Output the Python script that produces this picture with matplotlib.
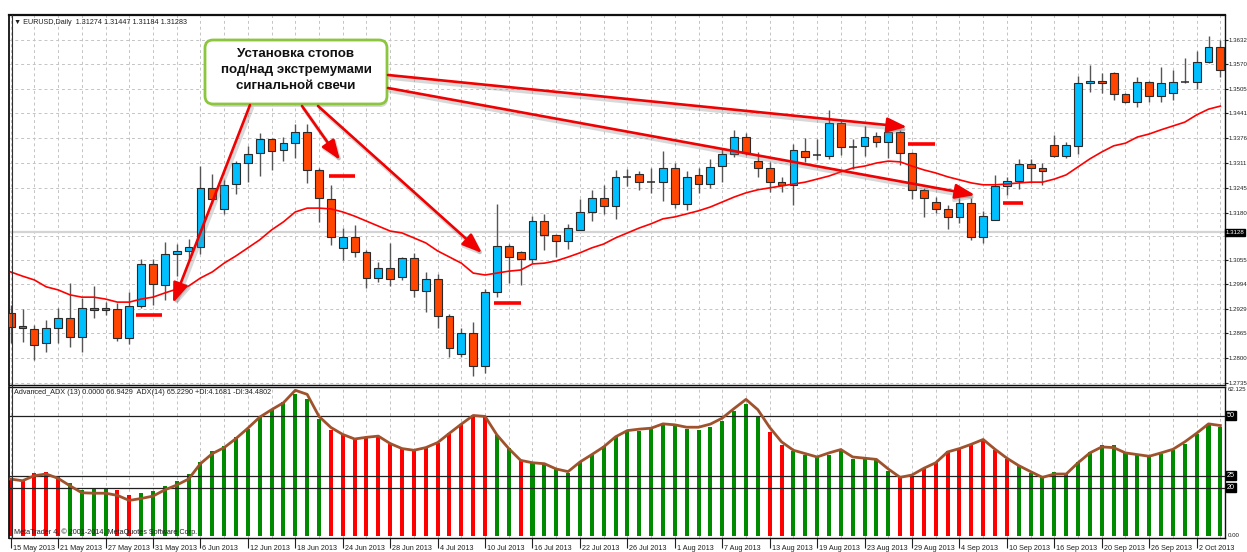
import numpy as np
import matplotlib.pyplot as plt
from matplotlib.patches import FancyBboxPatch
import matplotlib.transforms as mtransforms

plt.rcParams['font.family'] = ['Liberation Sans', 'DejaVu Sans']

# EURUSD daily candles, 15 May 2013 .. 4 Oct 2013
opens = [1.2918, 1.2884, 1.2876, 1.2839, 1.2878, 1.2905, 1.2855, 1.2931, 1.2931, 1.2928,
         1.2852, 1.2936, 1.3046, 1.2991, 1.3072, 1.3080, 1.3090, 1.3245, 1.3190, 1.3255,
         1.3310, 1.3336, 1.3373, 1.3344, 1.3362, 1.3391, 1.3292, 1.3216, 1.3088, 1.3116,
         1.3077, 1.3009, 1.3035, 1.3012, 1.3061, 1.2975, 1.3007, 1.2910, 1.2810, 1.2865,
         1.2779, 1.2973, 1.3093, 1.3077, 1.3059, 1.3158, 1.3122, 1.3106, 1.3135, 1.3182,
         1.3219, 1.3198, 1.3274, 1.3281, 1.3260, 1.3260, 1.3297, 1.3203, 1.3279, 1.3255,
         1.3302, 1.3334, 1.3378, 1.3315, 1.3297, 1.3260, 1.3253, 1.3342, 1.3331, 1.3328,
         1.3415, 1.3352, 1.3355, 1.3381, 1.3365, 1.3391, 1.3336, 1.3240, 1.3208, 1.3190,
         1.3169, 1.3205, 1.3116, 1.3161, 1.3250, 1.3263, 1.3308, 1.3297, 1.3357, 1.3328,
         1.3355, 1.3519, 1.3525, 1.3546, 1.3491, 1.3470, 1.3522, 1.3485, 1.3493, 1.3522,
         1.3522, 1.3574, 1.3614]
highs = [1.2939, 1.2928, 1.2886, 1.2899, 1.2931, 1.2996, 1.2957, 1.2988, 1.2946, 1.2944,
         1.2973, 1.3059, 1.3059, 1.3103, 1.3098, 1.3111, 1.3302, 1.3281, 1.3266, 1.3315,
         1.3355, 1.3389, 1.3376, 1.3378, 1.3412, 1.3412, 1.3297, 1.3253, 1.3140, 1.3148,
         1.3082, 1.3051, 1.3101, 1.3064, 1.3075, 1.3025, 1.3020, 1.2915, 1.2878, 1.2894,
         1.2980, 1.3203, 1.3098, 1.3080, 1.3171, 1.3177, 1.3124, 1.3151, 1.3216, 1.3240,
         1.3253, 1.3292, 1.3294, 1.3289, 1.3297, 1.3342, 1.3310, 1.3289, 1.3297, 1.3321,
         1.3347, 1.3397, 1.3389, 1.3339, 1.3313, 1.3274, 1.3360, 1.3376, 1.3373, 1.3449,
         1.3423, 1.3373, 1.3407, 1.3391, 1.3397, 1.3397, 1.3339, 1.3245, 1.3221, 1.3200,
         1.3219, 1.3219, 1.3185, 1.3279, 1.3274, 1.3321, 1.3321, 1.3310, 1.3383, 1.3365,
         1.3538, 1.3567, 1.3546, 1.3547, 1.3493, 1.3535, 1.3525, 1.3561, 1.3553, 1.3585,
         1.3603, 1.3642, 1.3632]
lows = [1.2839, 1.2842, 1.2795, 1.2816, 1.2839, 1.2829, 1.2816, 1.2905, 1.2912, 1.2844,
        1.2836, 1.2931, 1.2939, 1.2952, 1.3014, 1.3056, 1.3072, 1.3205, 1.3177, 1.3229,
        1.3260, 1.3276, 1.3292, 1.3315, 1.3323, 1.3258, 1.3156, 1.3096, 1.3056, 1.3064,
        1.2983, 1.2999, 1.2988, 1.3004, 1.2959, 1.2920, 1.2878, 1.2802, 1.2802, 1.2753,
        1.2761, 1.2959, 1.2996, 1.2991, 1.3048, 1.3082, 1.3064, 1.3085, 1.3135, 1.3158,
        1.3177, 1.3164, 1.3250, 1.3240, 1.3232, 1.3211, 1.3192, 1.3187, 1.3232, 1.3245,
        1.3260, 1.3326, 1.3331, 1.3274, 1.3234, 1.3234, 1.3200, 1.3313, 1.3318, 1.3321,
        1.3331, 1.3294, 1.3328, 1.3352, 1.3323, 1.3305, 1.3216, 1.3169, 1.3179, 1.3137,
        1.3153, 1.3109, 1.3101, 1.3161, 1.3226, 1.3242, 1.3258, 1.3253, 1.3326, 1.3323,
        1.3334, 1.3496, 1.3493, 1.3475, 1.3467, 1.3457, 1.3470, 1.3470, 1.3475, 1.3519,
        1.3504, 1.3572, 1.3535]
closes = [1.2881, 1.2878, 1.2834, 1.2878, 1.2905, 1.2855, 1.2931, 1.2925, 1.2925, 1.2852,
          1.2936, 1.3046, 1.2994, 1.3072, 1.3080, 1.3090, 1.3245, 1.3216, 1.3253, 1.3310,
          1.3334, 1.3373, 1.3342, 1.3362, 1.3391, 1.3292, 1.3219, 1.3116, 1.3116, 1.3077,
          1.3009, 1.3035, 1.3007, 1.3061, 1.2978, 1.3007, 1.2910, 1.2826, 1.2865, 1.2779,
          1.2973, 1.3093, 1.3064, 1.3059, 1.3158, 1.3122, 1.3106, 1.3140, 1.3182, 1.3219,
          1.3198, 1.3274, 1.3274, 1.3260, 1.3260, 1.3297, 1.3203, 1.3274, 1.3255, 1.3300,
          1.3334, 1.3378, 1.3336, 1.3297, 1.3260, 1.3253, 1.3344, 1.3326, 1.3331, 1.3415,
          1.3352, 1.3352, 1.3378, 1.3365, 1.3391, 1.3336, 1.3240, 1.3219, 1.3190, 1.3169,
          1.3205, 1.3116, 1.3171, 1.3250, 1.3263, 1.3308, 1.3297, 1.3289, 1.3328, 1.3357,
          1.3519, 1.3525, 1.3519, 1.3491, 1.3470, 1.3522, 1.3485, 1.3519, 1.3522, 1.3522,
          1.3574, 1.3614, 1.3553]
# moving average (red line)
ma = [1.3025, 1.3014, 1.3004, 1.2986, 1.2978, 1.2965, 1.2959, 1.2959, 1.2954, 1.2946,
      1.2946, 1.2954, 1.2959, 1.2970, 1.2980, 1.2988, 1.3009, 1.3025, 1.3048, 1.3067,
      1.3088, 1.3109, 1.3135, 1.3156, 1.3182, 1.3192, 1.3192, 1.3190, 1.3182, 1.3171,
      1.3158, 1.3145, 1.3132, 1.3127, 1.3114, 1.3101, 1.3080, 1.3064, 1.3048, 1.3022,
      1.3017, 1.3022, 1.3027, 1.3030, 1.3046, 1.3048, 1.3054, 1.3064, 1.3075, 1.3088,
      1.3098, 1.3114, 1.3127, 1.3140, 1.3151, 1.3164, 1.3169, 1.3177, 1.3185, 1.3195,
      1.3208, 1.3221, 1.3232, 1.3240, 1.3245, 1.3250, 1.3255, 1.3260, 1.3268, 1.3276,
      1.3287, 1.3297, 1.3302, 1.3310, 1.3315, 1.3313, 1.3302, 1.3292, 1.3284, 1.3274,
      1.3266, 1.3258, 1.3253, 1.3253, 1.3255, 1.3258, 1.3260, 1.3260, 1.3268, 1.3279,
      1.3300, 1.3321, 1.3339, 1.3355, 1.3362, 1.3378, 1.3386, 1.3397, 1.3407, 1.3417,
      1.3436, 1.3451, 1.3459]
bid = 1.31283

# Advanced ADX histogram, colour by direction (G = up, R = down) and the ADX line
adx_bars = [23.2, 22.6, 26.1, 26.7, 24.7, 22.0, 19.1, 19.6, 19.6, 18.9, 16.8, 17.7, 18.5,
            20.8, 22.7, 25.7, 30.8, 35.2, 37.4, 41.0, 44.4, 49.3, 52.5, 55.8, 59.2, 56.8,
            48.7, 44.1, 42.0, 40.1, 40.8, 41.2, 38.4, 36.0, 35.6, 36.6, 38.8, 42.9, 46.5,
            50.1, 49.3, 42.0, 36.6, 31.4, 30.4, 30.4, 28.1, 26.1, 30.9, 33.8, 37.3, 41.2,
            43.8, 43.8, 44.8, 46.5, 45.9, 44.5, 44.1, 45.5, 47.6, 51.8, 54.9, 49.3, 43.1,
            38.0, 35.2, 33.5, 32.8, 33.8, 35.2, 32.1, 31.8, 31.4, 27.1, 24.3, 25.0, 28.1,
            30.7, 35.2, 36.0, 37.7, 39.8, 35.6, 32.1, 29.0, 26.1, 24.3, 26.7, 25.7, 30.7,
            34.9, 37.7, 37.7, 34.5, 34.2, 32.8, 34.2, 35.6, 38.4, 42.2, 46.5, 45.5]
adx_dir = ("RRRRRGGGGRRGGGGGGGGGGGGGGGG" "RRRRRRRRRRRRRR" "GGRGGGGGGGG"
           "GGGGGGGGGGGGRRGGGGGGGGG" "RRRRRRRRRR" "GGGGGGGGGGGGGGGGGG")
adx_line = [23.6, 22.9, 25.0, 25.7, 23.9, 20.8, 17.9, 17.7, 17.7, 16.8, 14.7, 15.5, 16.5,
            19.1, 21.1, 23.6, 30.0, 34.2, 36.7, 40.5, 44.8, 49.4, 52.5, 55.4, 60.6, 58.9,
            49.7, 45.1, 42.2, 40.3, 41.0, 41.5, 38.4, 36.3, 35.6, 36.7, 38.8, 42.7, 46.5,
            50.1, 49.7, 42.0, 36.3, 31.4, 30.4, 30.0, 27.8, 26.7, 30.7, 33.8, 37.0, 41.2,
            43.8, 44.4, 44.8, 46.6, 46.2, 45.2, 45.2, 46.5, 49.0, 53.0, 56.8, 52.5, 45.1,
            39.1, 35.6, 34.2, 32.8, 34.5, 35.9, 32.8, 32.3, 31.8, 27.8, 24.3, 25.3, 28.1,
            30.4, 34.9, 36.3, 38.1, 40.1, 36.0, 32.3, 29.2, 26.7, 24.3, 25.7, 25.7, 30.4,
            34.5, 37.0, 36.7, 34.5, 33.8, 33.1, 34.5, 36.0, 39.1, 42.7, 46.6, 45.9]
adx_levels = [50, 25, 20]

date_labels = ['15 May 2013', '21 May 2013', '27 May 2013', '31 May 2013', '6 Jun 2013',
               '12 Jun 2013', '18 Jun 2013', '24 Jun 2013', '28 Jun 2013', '4 Jul 2013',
               '10 Jul 2013', '16 Jul 2013', '22 Jul 2013', '26 Jul 2013', '1 Aug 2013',
               '7 Aug 2013', '13 Aug 2013', '19 Aug 2013', '23 Aug 2013', '29 Aug 2013',
               '4 Sep 2013', '10 Sep 2013', '16 Sep 2013', '20 Sep 2013', '26 Sep 2013',
               '2 Oct 2013']
price_ticks = [1.2735, 1.2800, 1.2865, 1.2929, 1.2994, 1.3055, 1.3120, 1.3180, 1.3245,
               1.3311, 1.3376, 1.3441, 1.3505, 1.3570, 1.3632]
price_labels = ['1.2735', '1.2800', '1.2865', '1.2929', '1.2994', '1.3055', '', '1.3180',
                '1.3245', '1.3311', '1.3376', '1.3441', '1.3505', '1.3570', '1.3632']

# stop marks: (first bar, last bar, price)
stops = [(10.6, 12.8, 1.2912), (26.8, 29.0, 1.3276), (40.75, 43.0, 1.2944),
         (75.7, 77.9, 1.3360), (83.7, 85.4, 1.3205)]

W, H = 1247, 552
fig = plt.figure(figsize=(W / 100, H / 100), dpi=100)
fig.patch.set_facecolor('white')


def px_box(l, t, r, b):
    return [l / W, 1 - b / H, (r - l) / W, (b - t) / H]


ax1 = fig.add_axes(px_box(9, 15, 1225, 385))
ax2 = fig.add_axes(px_box(9, 387, 1225, 538))
xlim = (-0.14, 102.39)
small = 5.2
axis_small = 4.4
grid_kw = dict(color='#c4c4c4', linestyle=(0, (3, 3)), linewidth=0.7)

x = np.arange(len(opens))
o, h, l, c = (np.array(v) for v in (opens, highs, lows, closes))
up, down, flat = c > o, c < o, c == o

# ---- price panel
ax1.axhline(bid, color='#d4d4d4', lw=1.6, zorder=1)
ax1.vlines(x, l, h, color='#555555', lw=1, zorder=2)
ax1.bar(x[up], c[up] - o[up], bottom=o[up], width=0.66, color='#00bfff',
        edgecolor='#2a2a2a', linewidth=0.8, zorder=3)
ax1.bar(x[down], o[down] - c[down], bottom=c[down], width=0.66, color='#ff4500',
        edgecolor='#2a2a2a', linewidth=0.8, zorder=3)
ax1.hlines(o[flat], x[flat] - 0.33, x[flat] + 0.33, color='#2a2a2a', lw=1.1, zorder=3)
ax1.plot(x, ma, color='#ff0000', lw=1.2, zorder=4)
for s0, s1, p in stops:
    ax1.hlines(p, s0, s1, color='#ff0000', lw=2.6, zorder=5)

ax1.set_xlim(*xlim)
ax1.set_ylim(1.27291, 1.36974)
ax1.set_xticks(np.arange(0, 103, 2))
ax1.tick_params(axis='x', length=0, labelbottom=False)
ax1.yaxis.tick_right()
ax1.set_yticks(price_ticks)
ax1.set_yticklabels(price_labels)
ax1.tick_params(axis='y', length=2, width=0.8, pad=0.5, labelsize=axis_small,
                colors='#202020')
ax1.grid(True, **grid_kw)
ax1.set_axisbelow(True)

ax1.text(1.0008, bid, '1.3128', transform=ax1.get_yaxis_transform(), fontsize=axis_small,
         color='white', va='center', ha='left',
         bbox=dict(boxstyle='square,pad=0.1', fc='black', ec='black'))

# ---- ADX panel
bar_cols = ['#008a00' if d == 'G' else '#ff0000' for d in adx_dir]
ax2.bar(x, adx_bars, width=0.34, color=bar_cols, zorder=2)
ax2.plot(x, adx_line, color='#a0522d', lw=2, zorder=4)
for lv in adx_levels:
    ax2.axhline(lv, color='#202020', lw=0.9, zorder=3)
    ax2.text(1.0016, lv, str(lv), transform=ax2.get_yaxis_transform(), fontsize=small,
             color='white', va='center', ha='left',
             bbox=dict(boxstyle='square,pad=0.12', fc='black', ec='black'))
ax2.text(1.002, 62.125, '62.125', transform=ax2.get_yaxis_transform(),
         fontsize=axis_small, color='#202020', va='top', ha='left')
ax2.text(1.002, 0, '0.00', transform=ax2.get_yaxis_transform(), fontsize=axis_small,
         color='#202020', va='center', ha='left')
ax2.set_xlim(*xlim)
ax2.set_ylim(-0.96, 61.96)
ax2.set_yticks([])
ax2.set_xticks(np.arange(0, 103, 4))
ax2.set_xticks(np.arange(2, 103, 4), minor=True)
ax2.set_xticklabels(date_labels)
ax2.tick_params(axis='x', which='major', length=7, width=0.8, pad=-1.6,
                labelsize=small, colors='#202020')
ax2.tick_params(axis='x', which='minor', length=0)
ax2.grid(True, axis='x', which='both', **grid_kw)
ax2.set_axisbelow(True)
shift = mtransforms.ScaledTranslation(2 / 100, 0, fig.dpi_scale_trans)
for lab in ax2.get_xticklabels():
    lab.set_horizontalalignment('left')
    lab.set_transform(lab.get_transform() + shift)

for ax in (ax1, ax2):
    for sp in ax.spines.values():
        sp.set_color('#101010')
        sp.set_linewidth(1)
ax1.spines['top'].set_linewidth(1.6)
ax1.spines['left'].set_linewidth(1.3)
ax2.spines['left'].set_linewidth(1.3)

# ---- overlay in pixel coordinates for texts and callout
ov = fig.add_axes([0, 0, 1, 1], zorder=10)
ov.set_xlim(0, W)
ov.set_ylim(H, 0)
ov.axis('off')
ov.patch.set_alpha(0)

ov.plot([11.5, 11.5], [15, 538], color='#303030', lw=0.8)
ov.text(14, 23, '\u25bc EURUSD,Daily  1.31274 1.31447 1.31184 1.31283', fontsize=small,
        color='#202020', va='center', ha='left', family=['Liberation Sans', 'DejaVu Sans'])
ov.text(14, 393, 'Advanced_ADX (13) 0.0000 66.9429  ADX(14) 65.2290 +DI:4.1681 -DI:34.4802',
        fontsize=small, color='#202020', va='center', ha='left')
ov.text(14, 532, 'MetaTrader 4, \u00a9 2001-2014, MetaQuotes Software Corp.',
        fontsize=small, color='#202020', va='center', ha='left')

# arrows from the callout: (tail, head)
arrows = [((250, 105), (173, 303)), ((302, 106), (340, 160)), ((318, 106), (482, 253)),
          ((388, 75), (907, 127)), ((388, 88), (975, 195))]
astyle = '-|>,head_length=0.8,head_width=0.3'
for (tx, ty), (hx, hy) in arrows:
    ov.annotate('', xy=(hx + 2, hy + 3), xytext=(tx + 2, ty + 3),
                arrowprops=dict(arrowstyle=astyle, color='#808080', alpha=0.3, lw=2.8,
                                mutation_scale=15, shrinkA=0, shrinkB=0))
for (tx, ty), (hx, hy) in arrows:
    ov.annotate('', xy=(hx, hy), xytext=(tx, ty),
                arrowprops=dict(arrowstyle=astyle, color='#f00000', lw=1.9,
                                mutation_scale=15, shrinkA=0, shrinkB=0))

ov.add_patch(FancyBboxPatch((208, 43), 180, 64, boxstyle='round,pad=0,rounding_size=8',
                            fc='#909090', ec='none', alpha=0.35))
ov.add_patch(FancyBboxPatch((205, 40), 182, 64, boxstyle='round,pad=0,rounding_size=8',
                            fc='white', ec='#8cc63f', lw=2))
for yy, line in zip((54, 70, 86), ('Установка стопов', 'под/над экстремумами',
                                   'сигнальной свечи')):
    ov.text(296, yy, line, fontsize=9.6, fontweight='bold', color='#111111',
            ha='center', va='center')

fig.savefig('out.png', dpi=100, facecolor='white')
